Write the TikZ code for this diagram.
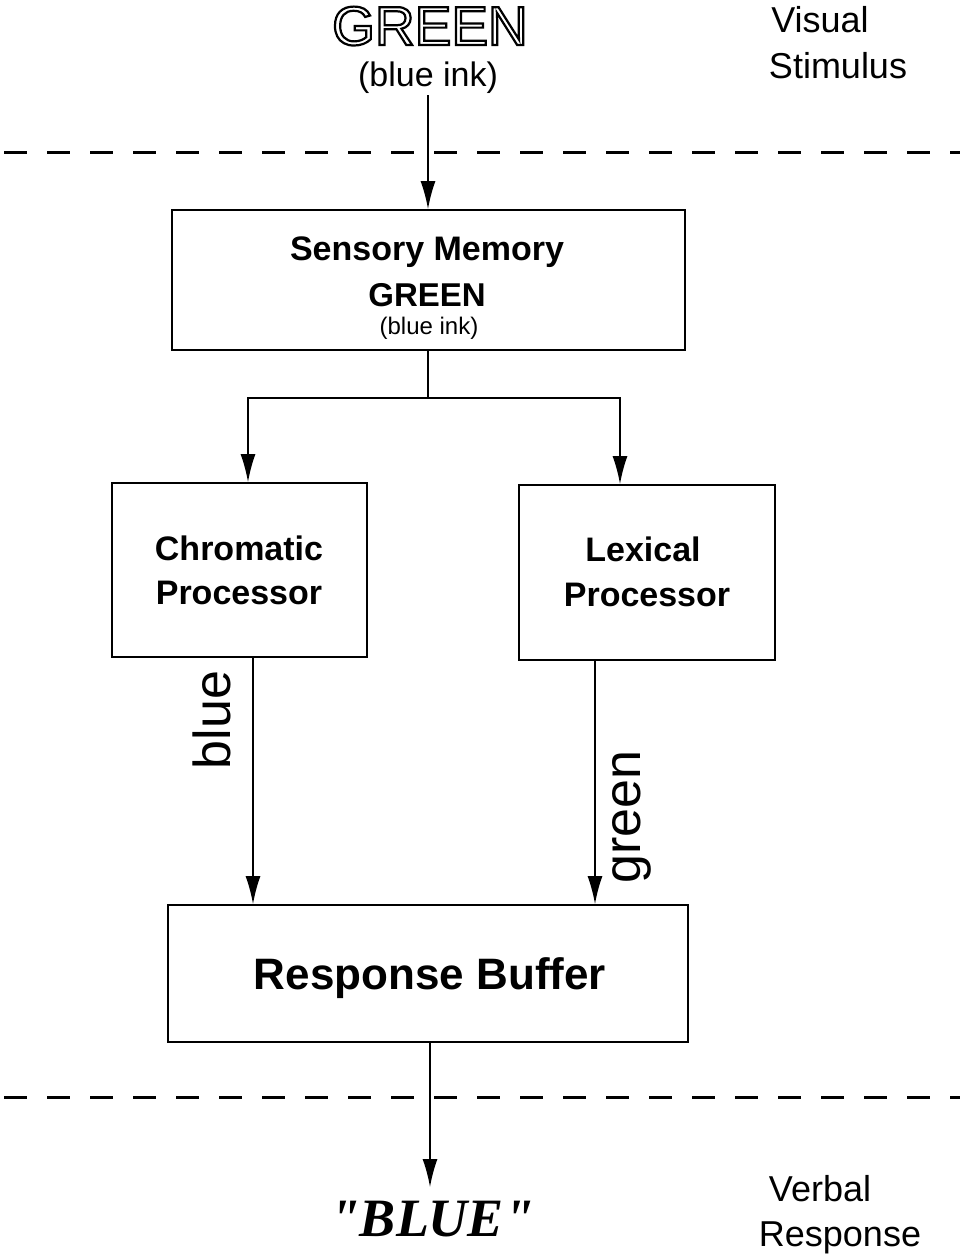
\documentclass[tikz,border=0pt]{standalone}
\usepackage{fontspec}
\setmainfont{Liberation Sans}
\newfontfamily\serifbi{Liberation Serif}
\usetikzlibrary{arrows.meta}
\tikzset{
  box/.style={draw, line width=1.8pt, inner sep=0pt},
  arr/.style={line width=1.5pt, -{Latex[length=28pt,width=15pt]}},
  plain/.style={line width=1.5pt},
  dashline/.style={line width=3pt, dash pattern=on 23pt off 20pt},
  txt/.style={anchor=base, inner sep=0pt},
}
\begin{document}
\begin{tikzpicture}[x=1pt,y=-1pt]
\useasboundingbox (0,0) rectangle (960,1255);
% top stimulus
\node[txt, font=\fontsize{55}{60}\selectfont] (gtop) at (430,45)
  {\special{pdf:literal direct 1 Tr 2.2 w}GREEN\special{pdf:literal direct 0 Tr 1 w}};
\node[txt, font=\fontsize{34}{40}\selectfont] (binktop) at (428,86) {(blue ink)};
\node[txt, font=\fontsize{36}{42}\selectfont] (vis1) at (820,33) {Visual};
\node[txt, font=\fontsize{36}{42}\selectfont] (vis2) at (838,78) {Stimulus};
% dashed lines
\coordinate (d1l) at (4,152); \coordinate (d1r) at (960,152);
\coordinate (d2l) at (4,1097); \coordinate (d2r) at (960,1097);
\draw[dashline] (d1l) -- (d1r);
\draw[dashline] (d2l) -- (d2r);
% boxes
\node[box, minimum width=513pt, minimum height=140pt] (sm) at (428.5,280) {};
\node[txt, font=\fontsize{34}{40}\selectfont\bfseries] (smt1) at (427,260) {Sensory Memory};
\node[txt, font=\fontsize{33}{40}\selectfont\bfseries] (smt2) at (427,306) {GREEN};
\node[txt, font=\fontsize{24}{30}\selectfont] (smt3) at (429,334) {(blue ink)};
\node[box, minimum width=255pt, minimum height=174pt] (cp) at (239.5,570) {};
\node[txt, font=\fontsize{34}{40}\selectfont\bfseries] (cpt1) at (239,560) {Chromatic};
\node[txt, font=\fontsize{34}{40}\selectfont\bfseries] (cpt2) at (239,604) {Processor};
\node[box, minimum width=256pt, minimum height=175pt] (lp) at (647,572.5) {};
\node[txt, font=\fontsize{34}{40}\selectfont\bfseries] (lpt1) at (643,561) {Lexical};
\node[txt, font=\fontsize{34}{40}\selectfont\bfseries] (lpt2) at (647,606) {Processor};
\node[box, minimum width=520pt, minimum height=137pt] (rb) at (428,973.5) {};
\node[txt, font=\fontsize{44}{50}\selectfont\bfseries] (rbt) at (430,989) {Response Buffer};
% connectors
\coordinate (split) at (428,398);
\coordinate (jl) at (248,398);
\coordinate (jr) at (620,398);
\coordinate (cl) at (253,0);
\coordinate (cr) at (595,0);
\coordinate (t0) at (428,95);
\draw[arr] (t0) -- (t0 |- sm.north);
\draw[plain] (sm.south -| split) -- (split);
\draw[arr] (split) -- (jl) -- (jl |- cp.north);
\draw[arr] (split) -- (jr) -- (jr |- lp.north);
\draw[arr] (cp.south -| cl) -- (rb.north -| cl);
\draw[arr] (lp.south -| cr) -- (rb.north -| cr);
\node[txt, font=\fontsize{52}{56}\selectfont, rotate=90] (lblue) at (230,720) {blue};
\node[txt, font=\fontsize{52}{56}\selectfont, rotate=90] (lgreen) at (640,817) {green};
% output
\node[txt, font=\fontsize{54}{60}\serifbi\bfseries\itshape] (out) at (432,1236) {"BLUE"};
\coordinate (outtop) at (430,1187);
\draw[arr] (rb.south -| outtop) -- (outtop);
\node[txt, font=\fontsize{36}{42}\selectfont] (vr1) at (820,1201) {Verbal};
\node[txt, font=\fontsize{36}{42}\selectfont] (vr2) at (840,1246) {Response};
\end{tikzpicture}
\end{document}
